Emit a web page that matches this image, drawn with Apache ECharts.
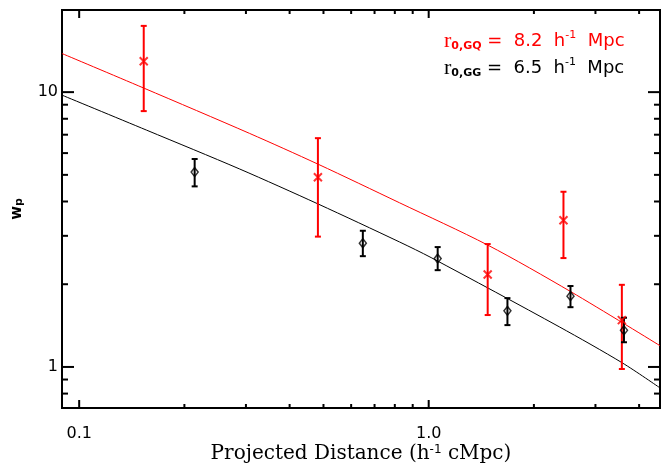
<!DOCTYPE html>
<html>
<head>
<meta charset="utf-8">
<script src="https://cdn.jsdelivr.net/npm/echarts@6/dist/echarts.min.js"></script>
<style>
  html, body { margin: 0; padding: 0; background: #fff; }
  #main { width: 661px; height: 466px; }
</style>
</head>
<body>
<div id="main"></div>
<script>
// galaxy-quasar cross correlation (red crosses)
var gqX = [0.153, 0.482, 1.475, 2.43, 3.57]
var gqY = [12.96, 4.90, 2.17, 3.42, 1.48]
var gqLo = [8.53, 2.98, 1.545, 2.49, 0.983]
var gqHi = [17.42, 6.80, 2.80, 4.34, 1.99]
// galaxy-galaxy auto correlation (black diamonds)
var ggX = [0.214, 0.648, 1.061, 1.68, 2.545, 3.62]
var ggY = [5.12, 2.82, 2.48, 1.60, 1.81, 1.36]
var ggLo = [4.54, 2.53, 2.25, 1.42, 1.65, 1.23]
var ggHi = [5.71, 3.13, 2.73, 1.78, 1.97, 1.51]
// model curves
var gqFitX = [0.0893, 0.1524, 0.3074, 0.4819, 0.8249, 1.475, 2.552, 4.59]
var gqFitY = [13.82, 10.37, 7.075, 5.472, 3.958, 2.777, 1.878, 1.195]
var ggFitX = [0.0893, 0.156, 0.288, 0.482, 0.825, 1.016, 2.363, 3.584, 4.59]
var ggFitY = [9.75, 7.27, 5.25, 3.92, 2.85, 2.50, 1.40, 1.034, 0.839]
// axes
var xMin = 0.0893
var xMax = 4.59
var yMin = 0.709
var yMax = 19.9
var xMajor = [0.1, 1.0]
var xMajorLabels = ['0.1', '1.0']
var xMinor = [0.2, 0.3, 0.4, 0.5, 0.6, 0.7, 0.8, 0.9, 2, 3, 4]
var yMajor = [1, 10]
var yMajorLabels = ['1', '10']
var yMinor = [0.8, 0.9, 2, 3, 4, 5, 6, 7, 8, 9]

var chart = echarts.init(document.getElementById('main'))

function pairs (xs, ys) {
  return xs.map(function (x, i) { return [x, ys[i]] })
}
function bars (xs, lo, hi) {
  return xs.map(function (x, i) { return [x, lo[i], hi[i]] })
}

// ticks on all four sides, pointing inwards, plus the tick labels
function frameItem (params, api) {
  var cs = params.coordSys
  var left = cs.x
  var right = cs.x + cs.width
  var top = cs.y
  var bottom = cs.y + cs.height
  var ch = []
  function seg (x1, y1, x2, y2) {
    ch.push({ type: 'line', shape: { x1: x1, y1: y1, x2: x2, y2: y2 }, style: { stroke: '#000', lineWidth: 2 } })
  }
  function label (x, y, text, align, va) {
    ch.push({
      type: 'text', x: x, y: y,
      style: { text: text, fill: '#000', font: '16px "DejaVu Sans"', align: align, verticalAlign: va }
    })
  }
  xMajor.forEach(function (v, i) {
    var px = api.coord([v, 1])[0]
    seg(px, bottom, px, bottom - 8)
    seg(px, top, px, top + 8)
    label(px, bottom + 18, xMajorLabels[i], 'center', 'top')
  })
  xMinor.forEach(function (v) {
    var px = api.coord([v, 1])[0]
    seg(px, bottom, px, bottom - 4)
    seg(px, top, px, top + 4)
  })
  yMajor.forEach(function (v, i) {
    var py = api.coord([1, v])[1]
    seg(left, py, left + 12, py)
    seg(right, py, right - 12, py)
    label(left - 4, py, yMajorLabels[i], 'right', 'middle')
  })
  yMinor.forEach(function (v) {
    var py = api.coord([1, v])[1]
    seg(left, py, left + 6, py)
    seg(right, py, right - 6, py)
  })
  return { type: 'group', children: ch }
}

function errItem (color) {
  return function (params, api) {
    var lo = api.coord([api.value(0), api.value(1)])
    var hi = api.coord([api.value(0), api.value(2)])
    var w = 3
    var st = { stroke: color, lineWidth: 2 }
    return {
      type: 'group',
      children: [
        { type: 'line', shape: { x1: lo[0], y1: lo[1], x2: hi[0], y2: hi[1] }, style: st },
        { type: 'line', shape: { x1: lo[0] - w, y1: lo[1], x2: lo[0] + w, y2: lo[1] }, style: st },
        { type: 'line', shape: { x1: hi[0] - w, y1: hi[1], x2: hi[0] + w, y2: hi[1] }, style: st }
      ]
    }
  }
}

var legendRich = {
  r: { fontFamily: 'Liberation Serif', fontSize: 22 },
  s: { fontFamily: 'DejaVu Sans', fontSize: 11, fontWeight: 'bold', verticalAlign: 'bottom' },
  t: { fontFamily: 'DejaVu Sans', fontSize: 18 },
  u: { fontFamily: 'DejaVu Sans', fontSize: 11, verticalAlign: 'top' }
}

chart.setOption({
  animation: false,
  grid: {
    left: 62, right: 1, top: 10, bottom: 58, outerBoundsMode: 'none',
    show: true, borderColor: '#000', borderWidth: 2
  },
  xAxis: {
    type: 'log', logBase: 10, min: xMin, max: xMax,
    axisLine: { show: false }, axisTick: { show: false }, axisLabel: { show: false }, splitLine: { show: false },
    name: '{t|Projected Distance (h}{u|-1}{t| cMpc)}',
    nameLocation: 'middle', nameGap: 36,
    nameTextStyle: {
      rich: {
        t: { fontFamily: 'DejaVu Serif', fontSize: 20, color: '#000' },
        u: { fontFamily: 'DejaVu Sans', fontSize: 12, color: '#000', verticalAlign: 'top' }
      }
    }
  },
  yAxis: {
    type: 'log', logBase: 10, min: yMin, max: yMax,
    axisLine: { show: false }, axisTick: { show: false }, axisLabel: { show: false }, splitLine: { show: false }
  },
  graphic: [
    {
      type: 'text', x: 17, y: 209, rotation: Math.PI / 2,
      style: {
        text: '{w|w}{p|p}', align: 'center', verticalAlign: 'middle',
        rich: {
          w: { fontFamily: 'DejaVu Sans', fontSize: 15, fontWeight: 'bold', fill: '#000' },
          p: { fontFamily: 'DejaVu Sans', fontSize: 11, fontWeight: 'bold', fill: '#000', verticalAlign: 'bottom' }
        }
      }
    },
    {
      type: 'text', left: 444, top: 30,
      style: { text: '{r|r}{s|0,GQ}{t| =  8.2  h}{u|-1}{t|  Mpc}', fill: '#ff0000', rich: legendRich }
    },
    {
      type: 'text', left: 444, top: 57,
      style: { text: '{r|r}{s|0,GG}{t| =  6.5  h}{u|-1}{t|  Mpc}', fill: '#000', rich: legendRich }
    }
  ],
  series: [
    {
      type: 'custom', renderItem: frameItem, data: [[1, 1]], silent: true, z: 1
    },
    {
      name: 'GG model', type: 'line', data: pairs(ggFitX, ggFitY), smooth: 0.3,
      showSymbol: false, lineStyle: { color: '#000', width: 1 }, z: 2
    },
    {
      name: 'GQ model', type: 'line', data: pairs(gqFitX, gqFitY), smooth: 0.3,
      showSymbol: false, lineStyle: { color: '#ff0000', width: 1 }, z: 2
    },
    {
      type: 'custom', renderItem: errItem('#ff0000'), data: bars(gqX, gqLo, gqHi),
      encode: { x: 0, y: [1, 2] }, z: 3
    },
    {
      type: 'custom', renderItem: errItem('#000'), data: bars(ggX, ggLo, ggHi),
      encode: { x: 0, y: [1, 2] }, z: 4
    },
    {
      name: 'GQ', type: 'scatter', data: pairs(gqX, gqY),
      symbol: 'path://M0,0L10,10M10,0L0,10', symbolSize: 8,
      itemStyle: { color: 'none', borderColor: '#ff0000', borderWidth: 2 }, z: 5
    },
    {
      name: 'GG', type: 'scatter', data: pairs(ggX, ggY),
      symbol: 'diamond', symbolSize: [7, 9],
      itemStyle: { color: 'rgba(0,0,0,0)', borderColor: '#000', borderWidth: 1.5 }, z: 6
    }
  ]
})
</script>
</body>
</html>
